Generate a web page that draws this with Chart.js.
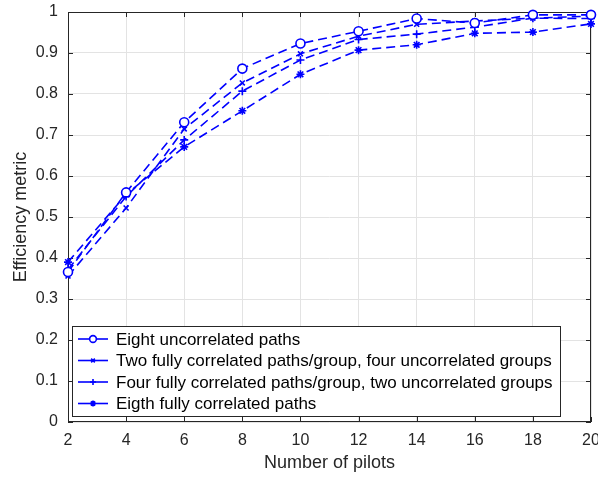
<!DOCTYPE html>
<html>
<head>
<meta charset="utf-8">
<script src="https://cdn.jsdelivr.net/npm/chart.js@4/dist/chart.umd.min.js"></script>
<style>
  html, body { margin: 0; padding: 0; background: #fff; }
  #wrap { width: 598px; height: 478px; }
</style>
</head>
<body>
<div id="wrap"><canvas id="chart" width="598" height="478"></canvas></div>
<script>
// --- data ---
const pilots = [2, 4, 6, 8, 10, 12, 14, 16, 18, 20];
const eightUncorr   = [0.366, 0.560, 0.731, 0.862, 0.923, 0.953, 0.984, 0.973, 0.993, 0.993];
const twoPerGroup   = [0.356, 0.522, 0.715, 0.827, 0.898, 0.941, 0.970, 0.978, 0.985, 0.990];
const fourPerGroup  = [0.372, 0.550, 0.688, 0.807, 0.883, 0.933, 0.946, 0.963, 0.985, 0.984];
const eightCorr     = [0.390, 0.555, 0.671, 0.759, 0.848, 0.907, 0.920, 0.948, 0.951, 0.971];
const seriesLabels = [
  'Eight uncorrelated paths',
  'Two fully correlated paths/group, four uncorrelated groups',
  'Four fully correlated paths/group, two uncorrelated groups',
  'Eigth fully correlated paths'
];
const xTicks = [2, 4, 6, 8, 10, 12, 14, 16, 18, 20];
const yTicks = [0, 0.1, 0.2, 0.3, 0.4, 0.5, 0.6, 0.7, 0.8, 0.9, 1];

const BLUE = '#0000ff';
const FONT = '"Liberation Sans", Arial, sans-serif';

function makeSet(label, values, style, radius, fill) {
  return {
    label: label,
    data: values.map((v, i) => ({ x: pilots[i], y: v })),
    borderColor: BLUE,
    backgroundColor: fill,
    borderWidth: 1.6,
    borderDash: [9, 5],
    pointStyle: style,
    pointRadius: radius,
    pointBorderWidth: 1.6,
    pointBorderColor: BLUE,
    pointBackgroundColor: fill,
    clip: false,
    tension: 0
  };
}

// legend drawn inside the plot, bottom-left, MATLAB style
const boxLegend = {
  id: 'boxLegend',
  afterDatasetsDraw(chart) {
    const ctx = chart.ctx;
    const a = chart.chartArea;
    const x0 = a.left + 4, y0 = 326, w = 488, h = 90;
    ctx.save();
    ctx.fillStyle = '#fff';
    ctx.fillRect(x0, y0, w, h);
    ctx.strokeStyle = '#262626';
    ctx.lineWidth = 1;
    ctx.strokeRect(x0 + 0.5, y0 + 0.5, w, h);
    ctx.font = '17px ' + FONT;
    ctx.textBaseline = 'middle';
    chart.data.datasets.forEach((ds, i) => {
      const yy = y0 + 13 + i * 21.5;
      ctx.setLineDash([]);
      ctx.strokeStyle = BLUE;
      ctx.fillStyle = ds.pointBackgroundColor;
      ctx.lineWidth = 1.6;
      ctx.beginPath();
      ctx.moveTo(x0 + 6, yy);
      ctx.lineTo(x0 + 36, yy);
      ctx.stroke();
      Chart.helpers.drawPoint(ctx, {
        pointStyle: ds.pointStyle,
        radius: ds.pointRadius * 0.75,
        borderWidth: 1.6
      }, x0 + 21, yy);
      ctx.fillStyle = '#000';
      ctx.fillText(ds.label, x0 + 44, yy + 1);
    });
    ctx.restore();
  }
};

// plot frame + inward ticks
const frame = {
  id: 'frame',
  beforeDatasetsDraw(chart) {
    const ctx = chart.ctx;
    const a = chart.chartArea;
    const xs = chart.scales.x, ys = chart.scales.y;
    ctx.save();
    ctx.strokeStyle = '#262626';
    ctx.lineWidth = 1;
    ctx.beginPath();
    xTicks.forEach(t => {
      const px = Math.round(xs.getPixelForValue(t)) + 0.5;
      ctx.moveTo(px, a.bottom); ctx.lineTo(px, a.bottom - 5);
      ctx.moveTo(px, a.top); ctx.lineTo(px, a.top + 5);
    });
    yTicks.forEach(t => {
      const py = Math.round(ys.getPixelForValue(t)) + 0.5;
      ctx.moveTo(a.left, py); ctx.lineTo(a.left + 5, py);
      ctx.moveTo(a.right, py); ctx.lineTo(a.right - 5, py);
    });
    ctx.stroke();
    ctx.strokeRect(a.left + 0.5, a.top + 0.5, a.right - a.left - 1, a.bottom - a.top - 1);
    ctx.restore();
  }
};

new Chart(document.getElementById('chart').getContext('2d'), {
  type: 'line',
  data: {
    datasets: [
      makeSet(seriesLabels[0], eightUncorr, 'circle', 4.5, '#ffffff'),
      makeSet(seriesLabels[1], twoPerGroup, 'crossRot', 3.5, BLUE),
      makeSet(seriesLabels[2], fourPerGroup, 'cross', 4, BLUE),
      makeSet(seriesLabels[3], eightCorr, 'star', 4, BLUE)
    ]
  },
  options: {
    responsive: false,
    animation: false,
    layout: { padding: { top: 12, right: 7, left: 0, bottom: 0 } },
    plugins: {
      legend: { display: false },
      tooltip: { enabled: false }
    },
    scales: {
      x: {
        type: 'linear',
        min: 2, max: 20,
        afterBuildTicks: s => { s.ticks = xTicks.map(v => ({ value: v })); },
        afterFit: s => { s.height = 56; s.paddingLeft = 0; s.paddingRight = 0; },
        ticks: { color: '#262626', font: { family: FONT, size: 16 }, padding: 9, maxRotation: 0 },
        grid: { color: '#e3e3e3', lineWidth: 1, drawTicks: false },
        border: { display: false },
        title: { display: true, text: 'Number of pilots', color: '#262626', font: { family: FONT, size: 18 }, padding: { top: 0 } }
      },
      y: {
        min: 0, max: 1,
        afterBuildTicks: s => { s.ticks = yTicks.map(v => ({ value: v })); },
        afterFit: s => { s.width = 68; s.paddingTop = 0; s.paddingBottom = 0; },
        ticks: { color: '#262626', font: { family: FONT, size: 16 }, padding: 10,
                 callback: v => String(Math.round(v * 10) / 10) },
        grid: { color: '#e3e3e3', lineWidth: 1, drawTicks: false },
        border: { display: false },
        title: { display: true, text: 'Efficiency metric', color: '#262626', font: { family: FONT, size: 18 }, padding: { top: 10, bottom: 0 } }
      }
    }
  },
  plugins: [frame, boxLegend]
});
</script>
</body>
</html>
